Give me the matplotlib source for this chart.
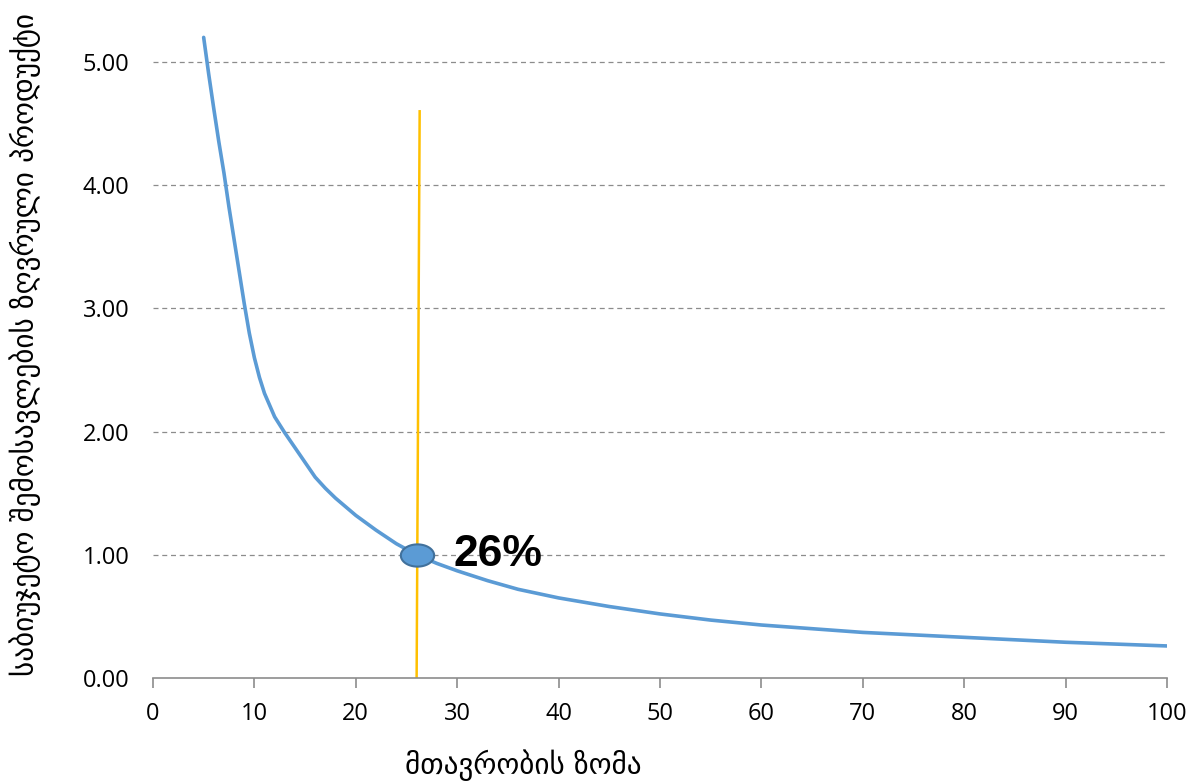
import numpy as np
import matplotlib.pyplot as plt
from matplotlib.path import Path

# მონაცემები (სურათიდან წაკითხული)
zoma = [5, 5.5, 6, 6.5, 7, 7.5, 8, 8.5, 9, 9.5, 10, 10.5, 11, 12, 13, 14, 15, 16, 17, 18,
        20, 22, 24, 26, 28, 30, 33, 36, 40, 45, 50, 55, 60, 70, 80, 90, 100]
produqti = [5.2, 4.9, 4.62, 4.35, 4.1, 3.82, 3.56, 3.3, 3.04, 2.8, 2.6, 2.44, 2.31, 2.12,
            1.99, 1.87, 1.75, 1.63, 1.54, 1.46, 1.32, 1.2, 1.09, 1.0, 0.93, 0.87, 0.79,
            0.72, 0.65, 0.58, 0.52, 0.47, 0.43, 0.37, 0.33, 0.29, 0.26]
xaz_x = [26, 26.3]
xaz_y = [0, 4.6]
wertili_x = 26
wertili_y = 1.0
etiketi = "26%"
x_ticks = [0, 10, 20, 30, 40, 50, 60, 70, 80, 90, 100]
y_ticks = [0, 1, 2, 3, 4, 5]

fig = plt.figure(figsize=(11.95, 7.81), dpi=100)
ax = fig.add_axes([0.128, 0.1319, 0.8486, 0.836])

ax.plot(zoma, produqti, color="#5B9BD5", lw=2.6, zorder=3, solid_capstyle="round",
        solid_joinstyle="round")
ax.plot(xaz_x, xaz_y, color="#FFC000", lw=1.8, zorder=2)

# ელიფსური მარკერი
t = np.linspace(0, 2 * np.pi, 60)
ell = Path(np.column_stack([1.5 * np.cos(t), np.sin(t)]))
ax.plot([wertili_x], [wertili_y], marker=ell, ms=24, mfc="#5B9BD5", mec="#41719C",
        mew=1.5, zorder=4, ls="none")
ax.text(29.6, wertili_y, etiketi, fontsize=32, fontweight="bold", family="Liberation Sans",
        va="center", ha="left", zorder=5)

ax.set_xlim(0, 100)
ax.set_ylim(0, 5.3)
ax.set_xticks(x_ticks)
ax.set_yticks(y_ticks)
ax.set_yticklabels(["%.2f" % v for v in y_ticks])
for v in y_ticks[1:]:
    ax.axhline(v, color="#8C8C8C", lw=0.9, ls=(0, (4, 3)), zorder=1)

for s in ["top", "right", "left"]:
    ax.spines[s].set_visible(False)
ax.spines["bottom"].set_color("#8C8C8C")
ax.spines["bottom"].set_linewidth(1.2)
ax.tick_params(axis="x", direction="out", length=7, color="#8C8C8C", width=1.2,
               labelsize=17, pad=10)
ax.tick_params(axis="y", length=0, labelsize=17, pad=17)
for lab in ax.get_xticklabels() + ax.get_yticklabels():
    lab.set_family("Open Sans")

ax.set_xlabel("მთავრობის ზომა", fontsize=21, va="center")
ax.xaxis.set_label_coords(0.365, -0.133)
ax.set_ylabel("საბიუჯეტო შემოსავლების ზღვრული პროდუქტი", fontsize=21, va="center")
ax.yaxis.set_label_coords(-0.126, 0.51)

fig.savefig("out.png", dpi=100)
